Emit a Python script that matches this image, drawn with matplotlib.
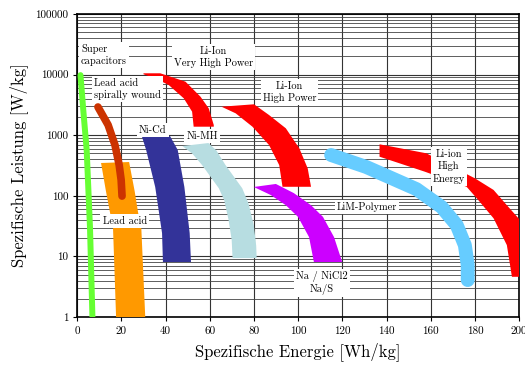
import matplotlib
matplotlib.use('Agg')
import matplotlib.pyplot as plt
from matplotlib.ticker import FixedLocator, NullFormatter

plt.rcParams['font.family'] = ['cmr10', 'DejaVu Serif']
plt.rcParams['axes.unicode_minus'] = False

# ---- data (energy Wh/kg, power W/kg) ----
x_ticks = [0, 20, 40, 60, 80, 100, 120, 140, 160, 180, 200]
y_ticks = [1, 10, 100, 1000, 10000, 100000]
y_ticklabels = ['1', '10', '100', '1000', '10000', '100000']

# Super capacitors (centre line)
sc_e = [1.5, 2.8, 4.3, 5.8, 6.9]
sc_p = [9800, 2500, 570, 30, 1]

# Lead acid spirally wound (centre line)
lasw_e = [9.4, 14.0, 17.1, 19.0, 19.9, 20.3]
lasw_p = [2920, 1474, 689, 322, 182, 99]

# Lead acid band
la_e_left = [10.8, 13.0, 14.9, 16.2, 17.6]
la_p_left = [348, 120, 52, 30.5, 1]
la_e_right = [23.5, 26.0, 27.6, 29.0, 30.8]
la_p_right = [361, 120, 52, 30.5, 1]

# Ni-Cd band
nicd_e_left = [29.2, 31.2, 35.3, 38.4, 38.8]
nicd_p_left = [970, 570, 140, 24.3, 8.1]
nicd_e_right = [42.0, 45.5, 48.5, 50.9, 51.5]
nicd_p_right = [970, 570, 140, 24.3, 8.1]

# Ni-MH band
nimh_e_left = [47.6, 52.0, 56.5, 64.1, 66.5, 68.5, 69.9, 70.3]
nimh_p_left = [663, 500, 322, 133, 85, 40, 18.7, 9.4]
nimh_e_right = [59.4, 63.0, 67.1, 74.7, 77.5, 79.9, 81.0, 81.2]
nimh_p_right = [743, 560, 322, 133, 75, 33, 15, 9.4]

# Li-Ion very high power band
livhp_e_left = [30.0, 35.3, 41.4, 48.2, 52.0, 52.7]
livhp_p_left = [10110, 8690, 6735, 4063, 2443, 1381]
livhp_e_right = [30.0, 37.6, 49.0, 55.8, 59.5, 61.8, 61.8]
livhp_p_right = [10500, 10500, 7640, 4316, 2780, 1474, 1381]

# Li-Ion high power band
lihp_e_left = [65.3, 71.7, 79.3, 86.8, 91.4, 92.9]
lihp_p_left = [2951, 2296, 1381, 689, 322, 141]
lihp_e_right = [80.0, 86.8, 94.4, 100.5, 104.3, 105.8]
lihp_p_right = [3236, 2153, 1300, 608, 284, 141]

# Na/NiCl2, Na/S band
nas_e_left = [79.9, 87.6, 94.4, 99.9, 104.9, 107.1]
nas_p_left = [140, 103, 70, 45, 20.9, 8.1]
nas_e_right = [89.9, 98.0, 105.8, 111.2, 116.2, 119.9]
nas_p_right = [157, 111, 70, 45, 20.9, 8.1]

# LiM-Polymer (centre line)
lim_e = [114.9, 130.8, 153.5, 164.9, 171.7, 175.4, 176.7, 176.7]
lim_p = [471, 299, 129, 65.3, 33, 15.4, 7.2, 4.08]

# Li-ion high energy band
lihe_e_left = [136.8, 157.3, 176.2, 180.8, 188.4, 194.4, 196.7]
lihe_p_left = [442, 250, 141, 91, 42.5, 15.4, 4.62]
lihe_e_right = [136.8, 158.0, 180.0, 188.4, 194.4, 199.7, 206.0, 206.0]
lihe_p_right = [708, 503, 194, 125, 70, 42.5, 25, 4.62]

fig = plt.figure(figsize=(5.25, 3.67), dpi=100)
ax = fig.add_axes([0.147, 0.136, 0.842, 0.826])
ax.set_yscale('log')
ax.set_xlim(0, 200)
ax.set_ylim(1, 100000)


def band(e_left, p_left, e_right, p_right, color):
    xs = list(e_left) + list(e_right)[::-1]
    ys = list(p_left) + list(p_right)[::-1]
    ax.fill(xs, ys, color=color, lw=0, zorder=3)


band(la_e_left, la_p_left, la_e_right, la_p_right, '#FF9900')
band(nicd_e_left, nicd_p_left, nicd_e_right, nicd_p_right, '#333399')
band(nimh_e_left, nimh_p_left, nimh_e_right, nimh_p_right, '#B7DDE1')
band(livhp_e_left, livhp_p_left, livhp_e_right, livhp_p_right, '#FF0000')
band(lihp_e_left, lihp_p_left, lihp_e_right, lihp_p_right, '#FF0000')
band(nas_e_left, nas_p_left, nas_e_right, nas_p_right, '#CC00FF')
band(lihe_e_left, lihe_p_left, lihe_e_right, lihe_p_right, '#FF0000')

ax.plot(sc_e, sc_p, color='#66FF33', lw=4.3, solid_capstyle='round', zorder=3)
ax.plot(lasw_e, lasw_p, color='#CC3300', lw=5.5, solid_capstyle='round',
        solid_joinstyle='round', zorder=4)
ax.plot(lim_e, lim_p, color='#66CCFF', lw=10, solid_capstyle='round',
        solid_joinstyle='round', zorder=3)

# labels
box = dict(facecolor='white', edgecolor='none', pad=1.5)
fs = 7.5
ax.text(1.7, 21000, 'Super\ncapacitors', fontsize=fs, ha='left', va='center',
        linespacing=1.3, bbox=box, zorder=5)
ax.text(7.6, 5790, 'Lead acid\nspirally wound', fontsize=fs, ha='left', va='center',
        linespacing=1.3, bbox=box, zorder=5)
ax.text(34.2, 1219, 'Ni-Cd', fontsize=fs, ha='center', va='center', bbox=box, zorder=5)
ax.text(56.5, 970, 'Ni-MH', fontsize=fs, ha='center', va='center', bbox=box, zorder=5)
ax.text(61.8, 19500, 'Li-Ion\nVery High Power', fontsize=fs, ha='center', va='center',
        linespacing=1.3, bbox=box, zorder=5)
ax.text(96.1, 5070, 'Li-Ion\nHigh Power', fontsize=fs, ha='center', va='center',
        linespacing=1.3, bbox=box, zorder=5)
ax.text(168.2, 302, 'Li-ion\nHigh\nEnergy', fontsize=fs, ha='center', va='center',
        linespacing=1.3, bbox=box, zorder=5)
ax.text(131.1, 64.6, 'LiM-Polymer', fontsize=fs, ha='center', va='center', bbox=box, zorder=5)
ax.text(110.7, 3.64, 'Na / NiCl2\nNa/S', fontsize=fs, ha='center', va='center',
        linespacing=1.3, bbox=box, zorder=5)
ax.text(21.5, 38.8, 'Lead acid', fontsize=fs, ha='center', va='center', bbox=box, zorder=5)

# axes, ticks, grid
ax.xaxis.set_major_locator(FixedLocator(x_ticks))
ax.set_xticklabels([str(t) for t in x_ticks])
ax.yaxis.set_major_locator(FixedLocator(y_ticks))
ax.set_yticklabels(y_ticklabels)
minor = [m * 10 ** d for d in range(0, 5) for m in range(2, 10)]
ax.yaxis.set_minor_locator(FixedLocator(minor))
ax.yaxis.set_minor_formatter(NullFormatter())
ax.tick_params(axis='both', which='major', labelsize=8, direction='out', length=3, width=0.8)
ax.tick_params(axis='y', which='minor', length=0)

ax.grid(True, which='major', color='#333333', lw=0.8, zorder=0)
ax.grid(True, which='minor', axis='y', color='#444444', lw=0.6, zorder=0)
ax.set_axisbelow(True)
for s in ax.spines.values():
    s.set_linewidth(1.2)

ax.set_xlabel('Spezifische Energie [Wh/kg]', fontsize=12, labelpad=5)
ax.set_ylabel('Spezifische Leistung [W/kg]', fontsize=12, labelpad=5)

fig.savefig('out.png', dpi=100)
